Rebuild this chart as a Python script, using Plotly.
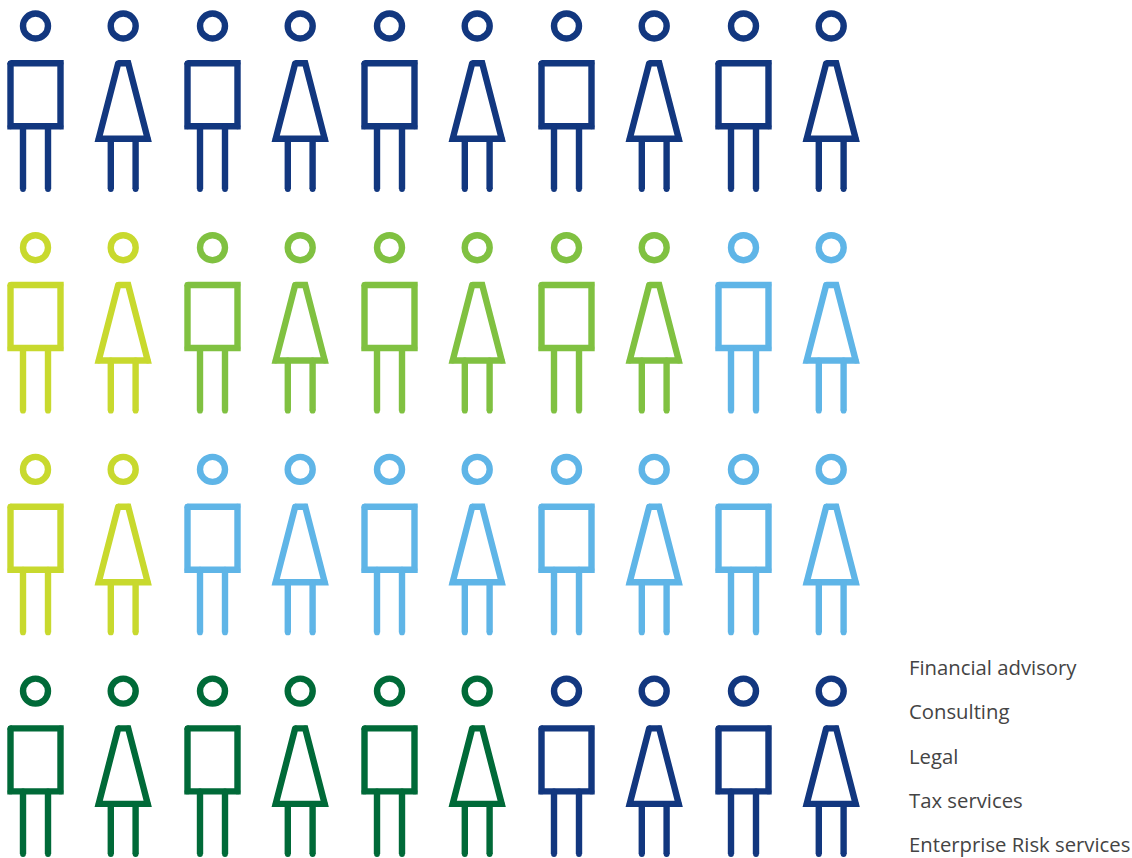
import plotly.graph_objects as go

legend_labels = ["Financial advisory", "Consulting", "Legal", "Tax services", "Enterprise Risk services"]

# Number of figures per colour in each row, read left to right
row_1 = [("navy", 10)]
row_2 = [("lime", 2), ("green", 6), ("sky", 2)]
row_3 = [("lime", 2), ("sky", 8)]
row_4 = [("forest", 6), ("navy", 4)]
rows = [row_1, row_2, row_3, row_4]

colours = {"navy": "#12377f", "lime": "#c8d92e", "green": "#80c141", "sky": "#5fb5e7", "forest": "#006a38"}

# Layout helpers (axis units equal pixels)
W, H = 1132, 858
PAIR_STEP, WOMAN_OFFSET, ROW_STEP = 177.0, 87.7, 221.7
X0, Y0 = 35.5, 26.0
STROKE = 6.4


def figure_paths(cx, top, is_woman):
    xs, ys = [], []
    if is_woman:
        body = [(-5, 37.3), (5, 37.3), (24.5, 112.8), (-24.5, 112.8), (-5, 37.3)]
        leg_top, leg_dx = 112.8, 12.4
    else:
        body = [(-25, 37.3), (25, 37.3), (25, 100.3), (-25, 100.3), (-25, 37.3)]
        leg_top, leg_dx = 100.3, 12.5
    for dx, dy in body:
        xs.append(cx + dx)
        ys.append(top + dy)
    xs.append(None)
    ys.append(None)
    for sign in (-1, 1):
        xs += [cx + sign * leg_dx, cx + sign * leg_dx, None]
        ys += [top + leg_top, top + 163, None]
    return xs, ys


line_x = {k: [] for k in colours}
line_y = {k: [] for k in colours}
head_x = {k: [] for k in colours}
head_y = {k: [] for k in colours}

for r, row in enumerate(rows):
    sequence = [name for name, count in row for _ in range(count)]
    for c, name in enumerate(sequence):
        is_woman = c % 2 == 1
        cx = X0 + PAIR_STEP * (c // 2) + (WOMAN_OFFSET if is_woman else 0)
        top = Y0 + ROW_STEP * r
        xs, ys = figure_paths(cx, top, is_woman)
        line_x[name] += xs
        line_y[name] += ys
        head_x[name].append(cx)
        head_y[name].append(top)

fig = go.Figure()
for name, colour in colours.items():
    fig.add_trace(go.Scatter(x=line_x[name], y=line_y[name], mode="lines+markers", name=name,
                             line=dict(color=colour, width=STROKE),
                             marker=dict(symbol="circle", size=STROKE - 0.6, color=colour, line=dict(width=0)),
                             hoverinfo="skip", connectgaps=False))
    fig.add_trace(go.Scatter(x=head_x[name], y=head_y[name], mode="markers", name=name,
                             marker=dict(symbol="circle-open", size=25, color=colour, line=dict(color=colour, width=STROKE)),
                             hoverinfo="skip"))

for i, label in enumerate(legend_labels):
    fig.add_annotation(x=907, y=667 + 44.3 * i, text=label, showarrow=False, xanchor="left", yanchor="middle",
                       xref="x", yref="y", font=dict(family="Open Sans", size=20.3, color="#444444"))

fig.update_layout(
    width=W, height=H, autosize=False, showlegend=False,
    margin=dict(l=0, r=0, t=0, b=0), paper_bgcolor="white", plot_bgcolor="white",
    xaxis=dict(range=[0, W], visible=False, fixedrange=True),
    yaxis=dict(range=[H, 0], visible=False, fixedrange=True),
)
fig.write_html("out.html", config={"displayModeBar": False},
               post_script="document.body.style.margin='0';document.documentElement.style.overflow='hidden';")
